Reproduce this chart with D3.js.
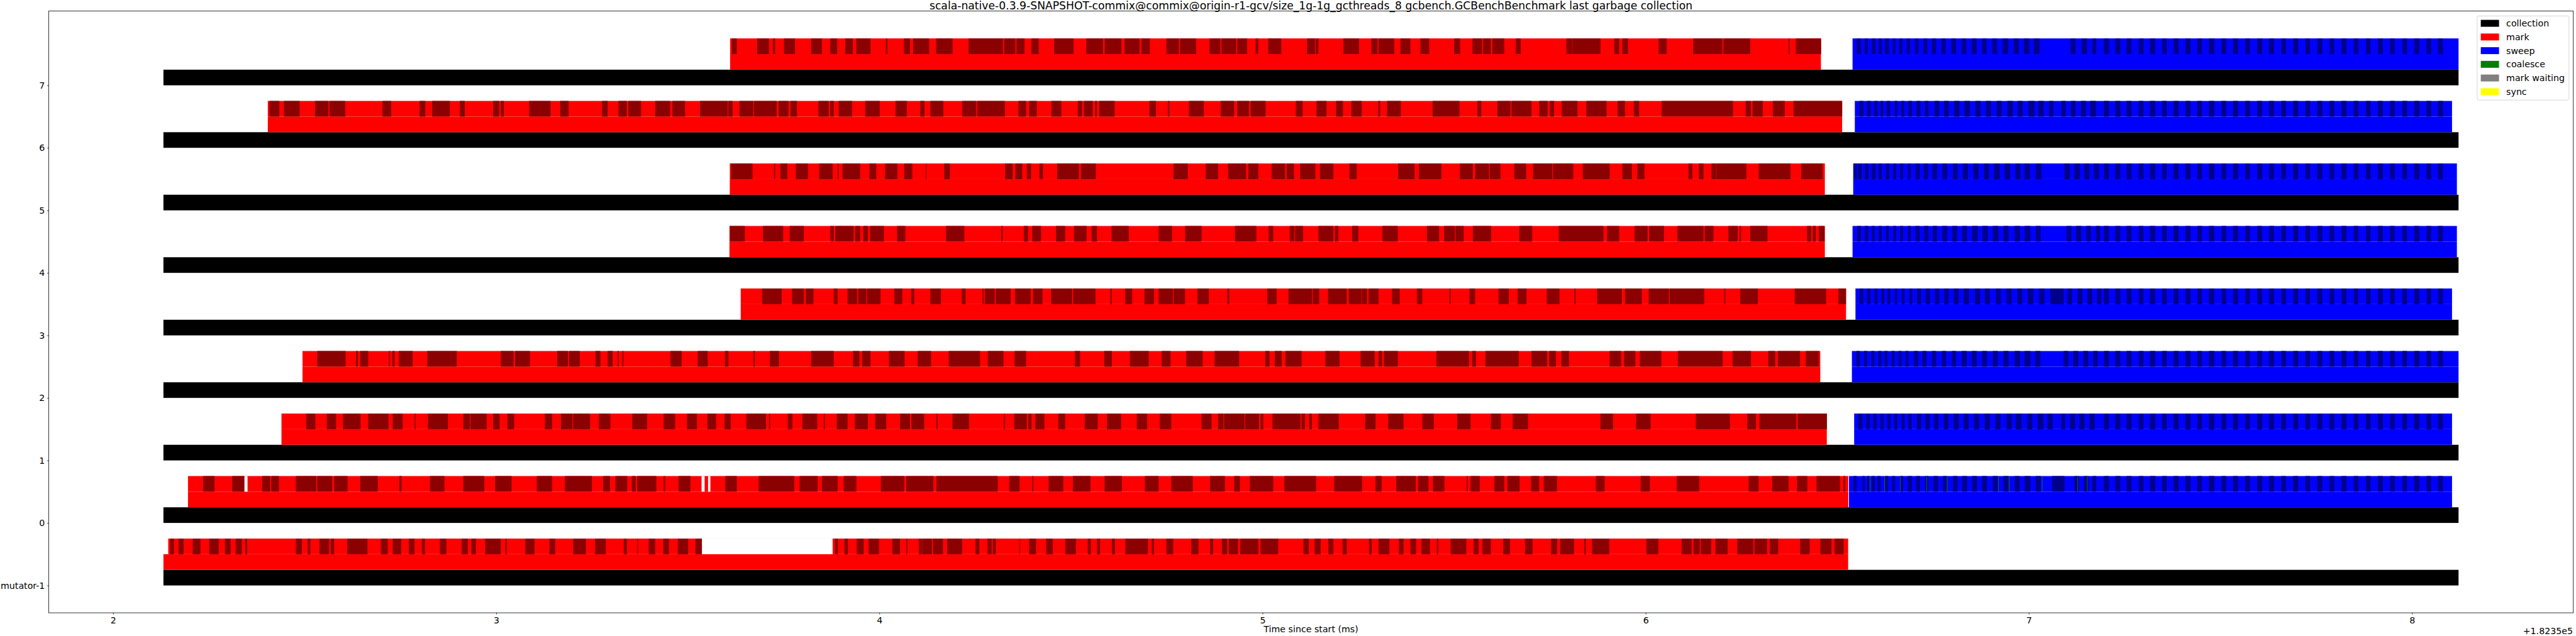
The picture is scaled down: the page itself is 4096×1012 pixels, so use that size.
<!DOCTYPE html>
<html><head><meta charset="utf-8">
<script src="https://cdn.jsdelivr.net/npm/d3@7/dist/d3.min.js"></script>
<style>html,body{margin:0;padding:0;background:#fff;overflow:hidden}svg{display:block}text{font-family:"DejaVu Sans",sans-serif;fill:#000}</style>
</head><body><svg id="chart" width="4096" height="1012"></svg>
<script>
// ---- data (time in ms, relative to the axis offset 1.8235e5) ----
const timeOffsetLabel = "+1.8235e5";
const laneLabels = ["mutator-1","0","1","2","3","4","5","6","7"];
const lanePos    = [-1,0,1,2,3,4,5,6,7];
const xTicks = [2,3,4,5,6,7,8];
const xTickLabels = ["2","3","4","5","6","7","8"];

const collectionStart = [2.1315,2.1315,2.1315,2.1315,2.1315,2.1315,2.1315,2.1315,2.1315];
const collectionEnd   = [8.1216,8.1216,8.1216,8.1216,8.1216,8.1216,8.1216,8.1216,8.1216];
const markStart   = [2.1315,2.1956,2.4396,2.4945,3.6382,3.6088,3.6097,2.4039,3.6105];
const markTopStart= [2.144,2.1956,2.4396,2.4945,3.6382,3.6088,3.6097,2.4039,3.6105];
const markEnd     = [6.5285,6.5289,6.4728,6.4558,6.5230,6.4677,6.4677,6.5128,6.4575];
const sweepStart  = [null,6.5306,6.5442,6.5383,6.5476,6.5400,6.5417,6.5459,6.5400];
const sweepEnd    = [null,8.1046,8.1046,8.1216,8.1046,8.1173,8.1173,8.1046,8.1216];

// dark (darkred) mark sub-events, per lane
const markDarkM1 = [[2.149,2.159],[2.171,2.184],[2.208,2.228],[2.251,2.276],[2.292,2.307],[2.320,2.336],[2.345,2.350],[2.477,2.493],[2.508,2.515],[2.539,2.564],[2.568,2.577],[2.611,2.664],[2.699,2.717],[2.730,2.752],[2.772,2.787],[2.806,2.814],[2.853,2.870],[2.910,2.926],[2.935,2.947],[2.971,3.012],[3.024,3.028],[3.076,3.100],[3.139,3.154],[3.201,3.234],[3.258,3.286],[3.333,3.341],[3.368,3.370],[3.398,3.415],[3.436,3.451],[3.474,3.501],[3.520,3.537],
 [3.884,3.892],[3.909,3.918],[3.941,3.959],[3.972,3.999],[4.034,4.054],[4.070,4.073],[4.103,4.111],[4.112,4.137],[4.140,4.166],[4.177,4.216],[4.251,4.261],[4.282,4.293],[4.296,4.304],[4.365,4.367],[4.391,4.409],[4.435,4.453],[4.485,4.513],[4.544,4.552],[4.568,4.576],[4.607,4.615],
 [4.642,4.701],[4.711,4.717],[4.749,4.767],[4.814,4.833],[4.863,4.871],[4.894,4.908],[4.912,4.936],[4.942,4.989],[4.995,5.041],[5.107,5.121],[5.136,5.152],[5.172,5.185],[5.209,5.220],[5.278,5.285],[5.303,5.331],[5.356,5.368],[5.386,5.401],[5.415,5.437],[5.455,5.459],[5.491,5.532],[5.551,5.564],[5.574,5.596],[5.628,5.646],[5.685,5.705],[5.753,5.769],[5.777,5.813],[5.840,5.844],[5.860,5.905],
 [6.002,6.033],[6.094,6.120],[6.125,6.141],[6.144,6.171],[6.182,6.214],[6.239,6.281],[6.284,6.317],[6.324,6.346],[6.403,6.428],[6.456,6.485],[6.493,6.517]];
const markDark0 = [[2.235,2.265],[2.311,2.343],[2.389,2.410],[2.413,2.433],[2.477,2.530],[2.533,2.572],[2.577,2.612],[2.645,2.691],[2.747,2.753],[2.827,2.865],[2.914,2.969],[2.997,3.040],[3.106,3.146],[3.179,3.250],[3.279,3.297],[3.311,3.342],[3.354,3.364],
 [3.368,3.418],[3.437,3.441],[3.476,3.507],[3.598,3.628],[3.685,3.778],[3.792,3.839],[3.850,3.891],[3.907,3.940],[4.004,4.065],[4.070,4.141],[4.149,4.309],[4.339,4.366],[4.399,4.402],[4.442,4.480],[4.505,4.551],[4.588,4.633],
 [4.693,4.729],[4.762,4.818],[4.863,4.902],[4.926,4.941],[4.967,5.028],[5.057,5.140],[5.187,5.260],[5.295,5.311],[5.349,5.400],[5.406,5.433],[5.445,5.475],[5.533,5.536],[5.543,5.567],[5.605,5.631],[5.639,5.671],[5.701,5.722],[5.734,5.769],[5.870,5.893],
 [5.987,6.011],[6.081,6.140],[6.269,6.295],[6.330,6.373],[6.395,6.422],[6.446,6.507],[6.516,6.521]];
const markDark1 = [[2.504,2.528],[2.558,2.582],[2.600,2.646],[2.666,2.719],[2.730,2.756],[2.787,2.790],[2.822,2.874],[2.914,2.931],[2.933,2.975],[2.992,3.009],[3.029,3.047],[3.127,3.146],[3.169,3.199],[3.201,3.245],[3.268,3.298],[3.355,3.394],
 [3.437,3.467],[3.498,3.524],[3.551,3.574],[3.596,3.612],[3.653,3.704],[3.712,3.715],[3.761,3.773],[3.799,3.838],[3.855,3.858],[3.889,3.917],[3.936,3.970],[3.989,4.018],[4.054,4.080],[4.084,4.117],[4.149,4.152],[4.191,4.234],[4.325,4.328],[4.352,4.385],[4.389,4.397],[4.407,4.431],[4.467,4.485],[4.536,4.570],[4.594,4.631],
 [4.672,4.699],[4.732,4.762],[4.841,4.867],[4.884,4.898],[4.900,4.953],[4.955,4.991],[4.995,5.002],[5.026,5.099],[5.102,5.111],[5.122,5.129],[5.146,5.199],[5.268,5.295],[5.328,5.368],[5.417,5.447],[5.508,5.543],[5.596,5.622],[5.653,5.693],[5.882,5.915],
 [5.975,6.013],[6.131,6.220],[6.265,6.288],[6.297,6.393],[6.397,6.473]];
const markDark2 = [[2.533,2.607],[2.634,2.639],[2.645,2.666],[2.720,2.723],[2.729,2.735],[2.746,2.782],[2.820,2.897],[3.012,3.045],[3.049,3.088],[3.159,3.187],[3.190,3.218],[3.259,3.272],[3.291,3.304],[3.317,3.320],[3.329,3.332],
 [3.455,3.484],[3.526,3.552],[3.597,3.606],[3.671,3.675],[3.714,3.738],[3.822,3.881],[3.931,3.948],[3.955,3.977],[4.025,4.066],[4.100,4.135],[4.181,4.263],[4.283,4.324],[4.353,4.383],[4.510,4.524],[4.587,4.607],
 [4.654,4.703],[4.737,4.760],[4.801,4.844],[4.875,4.939],[5.007,5.018],[5.032,5.050],[5.060,5.102],[5.164,5.201],[5.256,5.293],[5.303,5.312],[5.317,5.353],[5.454,5.539],[5.547,5.557],[5.582,5.669],[5.702,5.743],[5.748,5.766],[5.780,5.800],[5.906,5.936],
 [5.944,5.973],[5.985,6.041],[6.084,6.201],[6.227,6.275],[6.320,6.338],[6.345,6.403],[6.418,6.452]];
const markDark3 = [[3.694,3.745],[3.772,3.803],[3.808,3.828],[3.881,3.891],[3.917,3.942],[3.945,3.966],[3.968,4.003],[4.039,4.060],[4.083,4.091],[4.133,4.161],[4.215,4.225],[4.269,4.272],[4.275,4.301],[4.304,4.343],[4.354,4.395],[4.401,4.426],[4.448,4.503],[4.506,4.564],[4.603,4.607],
 [4.641,4.660],[4.692,4.717],[4.729,4.766],[4.768,4.798],[4.830,4.860],[4.908,4.913],[5.012,5.037],[5.068,5.129],[5.131,5.148],[5.171,5.220],[5.225,5.258],[5.259,5.273],[5.277,5.303],[5.338,5.358],[5.403,5.417],[5.488,5.491],[5.540,5.555],[5.616,5.643],[5.666,5.689],[5.742,5.775],[5.814,5.817],[5.873,5.938],
 [5.946,5.990],[6.008,6.061],[6.063,6.153],[6.205,6.208],[6.247,6.293],[6.389,6.471],[6.503,6.523]];
const markDark4 = [[3.610,3.649],[3.696,3.749],[3.766,3.803],[3.872,3.881],[3.885,3.933],[3.937,3.950],[3.958,3.970],[3.976,4.012],[4.046,4.068],[4.174,4.222],[4.318,4.322],[4.377,4.388],[4.399,4.422],[4.461,4.485],[4.508,4.541],[4.554,4.568],[4.606,4.651],
 [4.729,4.764],[4.798,4.841],[4.928,4.984],[5.016,5.028],[5.071,5.083],[5.085,5.106],[5.146,5.185],[5.189,5.198],[5.234,5.250],[5.313,5.353],[5.429,5.461],[5.474,5.502],[5.504,5.525],[5.549,5.597],[5.670,5.704],[5.773,5.890],[5.899,5.931],
 [5.971,6.005],[6.009,6.048],[6.083,6.151],[6.154,6.177],[6.216,6.240],[6.245,6.249],[6.273,6.318],[6.421,6.432],[6.436,6.444],[6.452,6.467]];
const markDark5 = [[3.613,3.669],[3.725,3.728],[3.742,3.760],[3.782,3.814],[3.843,3.878],[3.891,3.894],[3.904,3.950],[3.974,3.992],[4.015,4.047],[4.065,4.086],[4.121,4.123],[4.169,4.184],[4.328,4.348],[4.355,4.373],[4.385,4.396],[4.418,4.427],[4.464,4.521],[4.526,4.565],
 [4.768,4.805],[4.852,4.884],[4.910,4.957],[4.963,4.989],[5.024,5.059],[5.063,5.082],[5.098,5.138],[5.150,5.185],[5.227,5.246],[5.354,5.397],[5.408,5.467],[5.515,5.549],[5.555,5.591],[5.593,5.621],[5.657,5.688],[5.706,5.756],[5.758,5.811],[5.836,5.906],
 [5.939,5.964],[5.978,5.997],[6.112,6.122],[6.139,6.151],[6.172,6.184],[6.185,6.263],[6.295,6.378],[6.406,6.462]];
const markDark6 = [[2.408,2.434],[2.446,2.487],[2.527,2.562],[2.565,2.606],[2.703,2.726],[2.800,2.815],[2.833,2.879],[2.905,2.918],[2.992,3.008],[3.012,3.020],[3.086,3.142],[3.167,3.189],[3.276,3.291],[3.319,3.341],[3.345,3.378],
 [3.415,3.454],[3.460,3.493],[3.532,3.604],[3.606,3.617],[3.635,3.671],[3.673,3.732],[3.737,3.763],[3.768,3.785],[3.841,3.868],[3.872,3.881],[3.894,3.929],[3.963,4.001],[4.042,4.072],[4.107,4.118],[4.133,4.167],[4.216,4.253],[4.256,4.328],[4.363,4.383],[4.391,4.411],[4.449,4.475],[4.518,4.529],[4.534,4.557],[4.563,4.568],[4.574,4.614],
 [4.705,4.722],[4.753,4.757],[4.808,4.847],[4.891,4.926],[4.934,4.965],[4.969,5.008],[5.087,5.105],[5.141,5.167],[5.192,5.210],[5.232,5.259],[5.302,5.307],[5.325,5.361],[5.444,5.514],[5.561,5.571],[5.613,5.647],[5.650,5.702],[5.722,5.744],[5.750,5.761],[5.781,5.822],[5.845,5.898],
 [5.927,5.946],[5.969,5.983],[6.042,6.228],[6.261,6.275],[6.279,6.306],[6.332,6.363],[6.386,6.513]];
const markDark7 = [[3.615,3.628],[3.681,3.712],[3.722,3.728],[3.751,3.780],[3.822,3.850],[3.872,3.890],[3.911,3.931],[3.940,3.977],[4.017,4.021],[4.064,4.080],[4.088,4.130],[4.148,4.191],[4.233,4.323],[4.326,4.355],[4.358,4.379],[4.397,4.416],[4.456,4.507],[4.540,4.584],[4.588,4.632],
 [4.640,4.679],[4.684,4.706],[4.749,4.782],[4.785,4.827],[4.862,4.890],[4.893,4.931],[4.934,4.960],[4.982,4.989],[5.015,5.049],[5.116,5.137],[5.139,5.146],[5.211,5.252],[5.284,5.300],[5.303,5.344],[5.360,5.386],[5.412,5.435],[5.500,5.516],[5.548,5.573],[5.576,5.596],[5.600,5.631],[5.661,5.674],[5.793,5.808],[5.809,5.882],
 [5.918,5.931],[5.939,5.954],[6.034,6.055],[6.124,6.200],[6.203,6.273],[6.373,6.376],[6.392,6.458]];

// dark (darkblue) sweep sub-events, per lane
const sweepTailEstimate = [[7.196,7.209],[7.226,7.239],[7.255,7.268],[7.287,7.299],[7.316,7.330],[7.348,7.360],[7.378,7.391],[7.409,7.422],[7.440,7.452],[7.470,7.484],[7.503,7.515],[7.533,7.546],[7.565,7.577],[7.596,7.609],[7.627,7.640],[7.659,7.671],[7.690,7.703],[7.722,7.734],[7.753,7.766],[7.785,7.797],[7.816,7.829],[7.848,7.860],[7.880,7.892],[7.911,7.924],[7.943,7.955],[7.975,7.987],[8.006,8.019],[8.038,8.050],[8.068,8.081]];
const sweepDark0 = [[6.542,6.551],[6.566,6.572],[6.578,6.584],[6.590,6.598],[6.605,6.613],[6.625,6.633],[6.643,6.651],[6.664,6.672],[6.684,6.695],[6.706,6.716],[6.729,6.738],[6.751,6.763],[6.776,6.787],[6.802,6.814],[6.826,6.839],[6.852,6.865],[6.878,6.891],[6.906,6.919],[6.934,6.947],[6.963,6.976],[6.989,7.004],[7.018,7.031],[7.061,7.093],[7.119,7.131],[7.144,7.156],[7.166,7.176]];
const sweepDark1 = [[6.555,6.566],[6.576,6.585],[6.594,6.603],[6.613,6.621],[6.631,6.639],[6.649,6.657],[6.668,6.676],[6.686,6.694],[6.708,6.719],[6.730,6.741],[6.753,6.764],[6.778,6.790],[6.804,6.817],[6.830,6.843],[6.857,6.870],[6.885,6.898],[6.913,6.926],[6.942,6.955],[6.966,6.981],[6.996,7.009],[7.023,7.038],[7.049,7.062],[7.085,7.095],[7.108,7.121],[7.132,7.145],[7.158,7.172]];
const sweepDark2 = [[6.550,6.559],[6.570,6.578],[6.589,6.597],[6.607,6.615],[6.623,6.631],[6.642,6.650],[6.660,6.668],[6.678,6.686],[6.700,6.711],[6.722,6.733],[6.747,6.758],[6.773,6.784],[6.799,6.810],[6.825,6.838],[6.851,6.864],[6.878,6.891],[6.906,6.919],[6.934,6.947],[6.963,6.977],[6.989,7.004],[7.017,7.030],[7.091,7.103],[7.116,7.129],[7.142,7.155],[7.168,7.180]];
const sweepDark3 = [[6.558,6.568],[6.578,6.587],[6.597,6.605],[6.615,6.623],[6.631,6.639],[6.650,6.657],[6.668,6.676],[6.688,6.696],[6.708,6.719],[6.731,6.742],[6.755,6.766],[6.779,6.791],[6.804,6.817],[6.830,6.844],[6.859,6.873],[6.885,6.898],[6.914,6.927],[6.942,6.955],[6.970,6.983],[6.997,7.012],[7.027,7.041],[7.056,7.091],[7.100,7.113],[7.127,7.140],[7.153,7.166],[7.178,7.189]];
const sweepDark4 = [[6.552,6.562],[6.572,6.581],[6.590,6.598],[6.608,6.616],[6.627,6.635],[6.646,6.654],[6.664,6.672],[6.684,6.692],[6.704,6.715],[6.727,6.738],[6.749,6.761],[6.774,6.787],[6.800,6.813],[6.826,6.839],[6.852,6.867],[6.879,6.893],[6.906,6.921],[6.934,6.947],[6.963,6.977],[6.989,7.004],[7.018,7.031],[7.099,7.111],[7.123,7.137],[7.150,7.162],[7.175,7.186]];
const sweepDark5 = [[6.544,6.551],[6.554,6.564],[6.572,6.582],[6.590,6.600],[6.608,6.616],[6.627,6.636],[6.646,6.654],[6.664,6.672],[6.684,6.692],[6.704,6.715],[6.726,6.737],[6.749,6.761],[6.774,6.787],[6.802,6.814],[6.828,6.841],[6.855,6.869],[6.883,6.896],[6.909,6.924],[6.937,6.951],[6.965,6.978],[6.989,7.003],[7.018,7.033],[7.093,7.107],[7.119,7.133],[7.145,7.158],[7.170,7.183]];
const sweepDark6 = [[6.558,6.568],[6.578,6.587],[6.597,6.605],[6.613,6.620],[6.629,6.638],[6.650,6.657],[6.667,6.675],[6.686,6.695],[6.707,6.717],[6.729,6.738],[6.754,6.766],[6.779,6.791],[6.805,6.819],[6.832,6.846],[6.861,6.874],[6.888,6.901],[6.916,6.929],[6.944,6.958],[6.971,6.984],[6.999,7.015],[7.025,7.039],[7.053,7.064],[7.085,7.096],[7.110,7.122],[7.136,7.149],[7.160,7.175]];
const sweepDark7 = [[6.551,6.562],[6.572,6.580],[6.590,6.600],[6.608,6.616],[6.625,6.635],[6.645,6.652],[6.662,6.670],[6.681,6.690],[6.703,6.712],[6.725,6.735],[6.747,6.758],[6.772,6.783],[6.798,6.810],[6.825,6.837],[6.851,6.864],[6.878,6.890],[6.905,6.917],[6.932,6.946],[6.961,6.974],[6.987,7.001],[7.013,7.028],[7.109,7.122],[7.138,7.152],[7.166,7.176]];
// thin green (coalesce) events seen in lane 0
const coalesce0 = [6.585,6.623,6.664,6.733,6.786,6.920,6.948,7.034,7.127,7.152];
// gaps (white) in the top sub-event row: [lane position, start, end]
const topRowGaps = [[-1,3.537,3.878],[0,2.343,2.351],[0,3.536,3.544],[0,3.553,3.559]];

const legendLabels = ["collection","mark","sweep","coalesce","mark waiting","sync"];
const legendColors = ["#000000","#ff0000","#0000ff","#008000","#808080","#ffff00"];
const titleText = "scala-native-0.3.9-SNAPSHOT-commix@commix@origin-r1-gcv/size_1g-1g_gcthreads_8 gcbench.GCBenchBenchmark last garbage collection";
const xLabelText = "Time since start (ms)";

// ---- drawing ----
const markDarkByLane = [markDarkM1,markDark0,markDark1,markDark2,markDark3,markDark4,markDark5,markDark6,markDark7];
const sweepDarkByLane = [[],sweepDark0,sweepDark1,sweepDark2,sweepDark3,sweepDark4,sweepDark5,sweepDark6,sweepDark7];

const svg = d3.select("#chart");
const L = 77.4, R = 4091.7, T = 17.6, B = 975.1;
const x = d3.scaleLinear().domain([1.832, 8.4211]).range([L, R]);
const y = d3.scaleLinear().domain([-1.4375, 8.1875]).range([B, T]);
const FS = 14.2;

const plot = svg.append("g");
function band(pos, lo, hi, s, e, color){
  plot.append("rect").attr("x", x(s)).attr("width", Math.max(0, x(e) - x(s)))
    .attr("y", y(pos + hi)).attr("height", y(pos + lo) - y(pos + hi)).attr("fill", color);
}
lanePos.forEach((p, i) => {
  band(p, 0, 0.25, collectionStart[i], collectionEnd[i], "#000000");
  band(p, 0.25, 0.5, markStart[i], markEnd[i], "#ff0000");
  band(p, 0.5, 0.75, markTopStart[i], markEnd[i], "#ff0000");
  markDarkByLane[i].forEach(d => band(p, 0.5, 0.75, d[0], d[1], "#8b0000"));
  if (sweepStart[i] !== null) {
    band(p, 0.25, 0.5, sweepStart[i], sweepEnd[i], "#0000ff");
    band(p, 0.5, 0.75, sweepStart[i], sweepEnd[i], "#0000ff");
    sweepDarkByLane[i].forEach(d => band(p, 0.5, 0.75, d[0], d[1], "#00008b"));
    sweepTailEstimate.filter(d => d[1] < sweepEnd[i]).forEach(d => band(p, 0.5, 0.75, d[0], d[1], "#00008b"));
  }
});
coalesce0.forEach(t => band(0, 0.5, 0.75, t, t + 0.0015, "#008000"));
topRowGaps.forEach(g => band(g[0], 0.5, 0.75, g[1], g[2], "#ffffff"));

// axes
const xAxis = d3.axisBottom(x).tickValues(xTicks).tickFormat((d, i) => xTickLabels[i])
  .tickSizeInner(2.5).tickSizeOuter(0).tickPadding(4);
const gx = svg.append("g").attr("transform", `translate(0,${B})`).call(xAxis);
gx.select(".domain").remove();
gx.selectAll("text").attr("font-size", FS).attr("font-family", "DejaVu Sans");
gx.selectAll("line").attr("stroke", "#000").attr("stroke-width", 0.8);

const yAxis = d3.axisLeft(y).tickValues(lanePos).tickFormat((d, i) => laneLabels[i])
  .tickSizeInner(2.5).tickSizeOuter(0).tickPadding(3.5);
const gy = svg.append("g").attr("transform", `translate(${L},0)`).call(yAxis);
gy.select(".domain").remove();
gy.selectAll("text").attr("font-size", FS).attr("font-family", "DejaVu Sans");
gy.selectAll("line").attr("stroke", "#000").attr("stroke-width", 0.8);

svg.append("rect").attr("x", L).attr("y", T).attr("width", R - L).attr("height", B - T)
  .attr("fill", "none").attr("stroke", "#000").attr("stroke-width", 0.8);

svg.append("text").attr("x", (L + R) / 2).attr("y", 14.8).attr("text-anchor", "middle")
  .attr("font-size", 17.2).text(titleText);
svg.append("text").attr("x", (L + R) / 2).attr("y", 1006).attr("text-anchor", "middle")
  .attr("font-size", FS).text(xLabelText);
svg.append("text").attr("x", 4091).attr("y", 1008.5).attr("text-anchor", "end")
  .attr("font-size", FS).text(timeOffsetLabel);

// legend
const lg = svg.append("g");
lg.append("rect").attr("x", 3938.9).attr("y", 25.4).attr("width", 145.9).attr("height", 133.8)
  .attr("rx", 2).attr("fill", "#fff").attr("fill-opacity", 0.8).attr("stroke", "#cccccc").attr("stroke-width", 0.8);
legendLabels.forEach((lab, i) => {
  const cy = 37.1 + i * 21.75;
  lg.append("rect").attr("x", 3944.6).attr("y", cy - 5.5).attr("width", 29).attr("height", 11)
    .attr("fill", legendColors[i]);
  lg.append("text").attr("x", 3985.1).attr("y", cy + 5.1).attr("font-size", FS).text(lab);
});
</script></body></html>
